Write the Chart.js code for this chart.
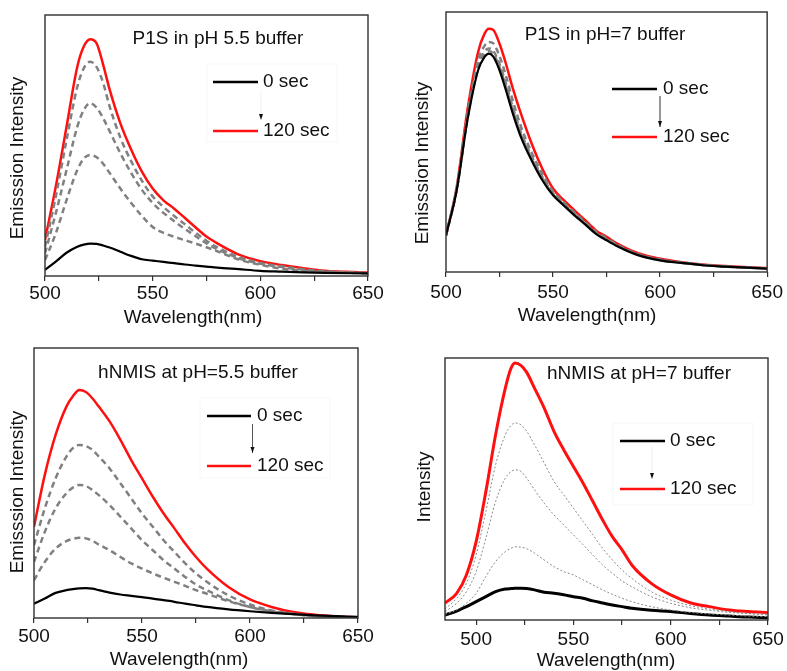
<!DOCTYPE html>
<html>
<head>
<meta charset="utf-8">
<script src="https://cdn.jsdelivr.net/npm/chart.js@4/dist/chart.umd.min.js"></script>
<style>
  html, body { margin: 0; padding: 0; background: #fff; }
  body { width: 787px; height: 671px; position: relative; overflow: hidden; }
  canvas { position: absolute; }
</style>
</head>
<body>
<canvas id="c1" width="393" height="335" style="left:0;top:0"></canvas>
<canvas id="c2" width="387" height="335" style="left:400px;top:0"></canvas>
<canvas id="c3" width="393" height="336" style="left:0;top:335px"></canvas>
<canvas id="c4" width="387" height="336" style="left:400px;top:335px"></canvas>
<script>
// Axis ticks (every 25 nm, labels every 50 nm)
const tickValues = [500, 525, 550, 575, 600, 625, 650];
const labelValues = [500, 550, 600, 650];

// --- P1S in pH 5.5 buffer ---
const wlP1S55 = [500,505,510,515,518,521,524,527,530,535,540,545,550,555,560,565,570,575,580,590,600,610,620,630,650];
const p1s55_0s   = [2.3,5.5,8.9,11.2,12.0,12.4,12.3,11.7,10.9,9.3,7.7,6.4,5.9,5.4,4.9,4.4,4.0,3.6,3.2,2.6,2.0,1.7,1.4,1.2,1.0];
const p1s55_t1   = [6.1,16.3,29.1,40.6,45.0,46.4,45.5,43.0,39.5,33.5,28.0,23.0,18.8,16.5,15.0,13.7,12.4,11.0,9.5,6.3,4.3,2.8,2.0,1.5,1.0];
const p1s55_t2   = [8.7,24.0,40.6,57.2,63.6,66.2,64.5,60.5,55.5,47.0,39.5,33.0,28.0,24.2,21.0,18.0,15.2,12.5,10.2,6.8,4.7,3.4,2.4,1.7,1.1];
const p1s55_t3   = [11.2,30.4,52.1,72.5,79.6,82.1,80.0,74.0,65.0,53.0,44.0,36.5,30.5,26.5,23.0,19.8,16.5,13.5,11.0,7.3,5.0,3.7,2.6,1.8,1.1];
const p1s55_120s = [13.8,34.2,57.2,80.2,87.9,90.7,89.1,81.0,71.5,58.5,48.5,40.0,33.5,29.0,25.8,22.2,18.6,15.1,12.5,8.2,5.7,4.2,3.0,2.0,1.3];

// --- P1S in pH=7 buffer ---
const wlP1S7 = [500,505,510,515,518,520,522,525,528,531,535,540,545,550,555,560,565,570,575,580,590,600,610,620,630,650];
const p1s7_0s   = [14.1,31.4,58.3,77.6,82.7,84.0,82.9,77.6,69.9,61.5,51.9,42.9,35.3,29.5,25.6,21.8,18.3,14.7,12.2,9.9,6.4,4.5,3.5,2.6,2.1,1.3];
const p1s7_t1   = [14.1,31.6,58.8,78.5,83.6,85.0,84.0,78.8,71.2,62.6,52.8,43.6,36.0,29.9,25.9,22.1,18.5,14.9,12.4,10.0,6.5,4.5,3.5,2.6,2.1,1.3];
const p1s7_t2   = [14.1,31.8,59.5,79.5,84.8,86.0,85.2,80.0,72.5,63.8,53.8,44.5,36.6,30.3,26.2,22.4,18.8,15.1,12.6,10.2,6.6,4.6,3.6,2.7,2.1,1.4];
const p1s7_t3   = [14.1,32.2,60.5,81.5,87.0,88.5,88.0,83.0,75.5,66.5,56.0,46.0,37.8,31.0,26.8,22.9,19.2,15.5,13.0,10.5,6.8,4.8,3.7,2.8,2.2,1.4];
const p1s7_120s = [14.1,32.7,62.2,84.6,91.7,93.6,93.2,87.8,80.1,71.2,60.9,49.4,39.7,32.1,27.6,23.7,19.9,16.0,13.5,10.9,7.1,5.1,3.8,2.9,2.3,1.5];

// --- hNMIS at pH=5.5 buffer ---
const wlH55 = [500,505,510,515,518,521,524,527,530,535,540,545,550,555,560,565,570,575,580,590,600,610,620,630,640,650];
const h55_0s   = [5.3,7.2,9.3,10.3,10.7,11.0,11.1,10.9,10.3,9.4,8.7,8.2,7.7,7.2,6.6,6.0,5.3,4.7,4.1,3.2,2.5,1.9,1.4,1.0,0.7,0.4];
const h55_t1   = [14.0,20.8,25.7,28.5,29.3,29.7,29.5,28.6,27.2,25.1,22.6,20.2,18.3,16.5,14.9,13.4,11.9,10.3,9.0,6.2,4.1,2.5,1.5,0.7,0.4,0.25];
const h55_t2   = [20.8,31.9,40.6,46.2,48.3,49.3,48.9,47.4,45.5,41.8,37.5,33.2,28.8,25.1,21.4,18.3,15.2,12.4,10.3,6.6,4.1,2.5,1.5,0.7,0.4,0.25];
const h55_t3   = [27.0,40.6,51.7,59.8,62.9,64.1,63.7,62.3,59.8,55.4,49.9,44.3,38.7,33.8,28.8,24.5,20.2,16.5,13.4,8.4,5.0,2.8,1.5,0.7,0.4,0.25];
const h55_120s = [33.8,53.0,67.8,78.3,82.1,84.4,83.7,81.4,78.3,72.8,66.0,58.5,51.7,44.9,38.7,33.2,27.6,22.6,18.3,11.5,6.9,4.1,2.2,1.2,0.6,0.25];

// --- hNMIS at pH=7 buffer ---
const wlH7 = [484,490,495,500,505,510,515,518,520,523,526,530,535,540,545,550,555,560,565,570,575,580,590,600,610,620,630,640,650];
const h7_0s   = [1.9,3.4,5.1,7.0,8.9,10.8,11.8,12.0,12.1,12.1,12.0,11.5,10.6,10.2,9.6,8.9,8.3,7.3,6.5,5.7,5.1,4.5,3.7,3.2,2.5,1.9,1.5,1.1,0.9];
const h7_t1   = [2.2,3.8,6.4,10.2,16.6,22.3,26.1,27.4,27.9,27.8,27.2,25.5,22.9,20.4,18.5,17.2,15.3,13.4,11.5,9.8,8.3,7.0,5.1,3.8,2.9,2.3,1.9,1.5,1.3];
const h7_t2   = [3.2,6.4,10.8,18.5,31.2,45.2,54.1,56.7,57.3,56.7,54.1,49.7,44.6,40.1,36.3,32.5,28.7,24.8,21.0,17.8,14.9,12.7,8.9,6.4,4.7,3.7,2.9,2.4,1.9];
const h7_t3   = [4.2,8.3,14.0,24.8,41.4,59.2,70.7,74.3,75.2,74.5,72.0,66.9,59.9,52.9,47.8,42.7,37.6,32.5,27.4,22.9,19.1,15.9,10.8,7.6,5.5,4.2,3.2,2.5,2.2];
const h7_120s = [6.4,10.2,17.2,29.9,49.0,70.7,88.5,96.2,98.1,97.2,94.5,88.5,80.9,72.0,65.0,58.6,52.2,45.2,38.2,31.8,26.8,21.0,14.0,9.6,6.6,5.1,3.8,3.2,2.8];

const legendLabels = ['0 sec', '120 sec'];
const FONT = '"Liberation Sans", Arial, Helvetica, sans-serif';
Chart.defaults.font.family = FONT;
Chart.defaults.color = '#111';

const styles = {
  red:   { borderColor: '#ff1010', borderWidth: 2.5, borderDash: [] },
  black: { borderColor: '#000000', borderWidth: 2.2, borderDash: [] },
  dash:  { borderColor: '#808080', borderWidth: 2.5, borderDash: [6, 4] },
  dot:   { borderColor: '#8a8a8a', borderWidth: 1, borderDash: [2, 2] }
};

function series(wl, vals, kind, extra) {
  return Object.assign({
    data: wl.map((x, i) => ({ x: x, y: vals[i] })),
    pointRadius: 0,
    fill: false,
    cubicInterpolationMode: 'monotone',
    tension: 0.4
  }, styles[kind], extra || {});
}

// Frame, panel title, hand-placed legend with arrow, and axis titles
const panelDecor = {
  id: 'panelDecor',
  afterDatasetsDraw(chart, args, o) {
    const ctx = chart.ctx, a = chart.chartArea;
    ctx.save();
    // faint legend box
    if (o.box) {
      ctx.strokeStyle = 'rgba(0,0,0,0.035)';
      ctx.lineWidth = 1;
      ctx.strokeRect(o.box[0], o.box[1], o.box[2], o.box[3]);
    }
    // frame
    ctx.strokeStyle = '#303030';
    ctx.lineWidth = 1.4;
    ctx.strokeRect(a.left, a.top, a.right - a.left, a.bottom - a.top);

    ctx.fillStyle = '#111';
    ctx.font = '19px ' + FONT;
    ctx.textBaseline = 'middle';
    ctx.textAlign = 'center';
    ctx.fillText(o.title, o.titleX, o.titleY);

    // legend lines
    const lg = o.legend;
    ctx.lineWidth = lg.lw;
    ctx.strokeStyle = '#000';
    ctx.beginPath(); ctx.moveTo(lg.x0, lg.y0); ctx.lineTo(lg.x1, lg.y0); ctx.stroke();
    ctx.strokeStyle = '#ff1010';
    ctx.beginPath(); ctx.moveTo(lg.x0, lg.y1); ctx.lineTo(lg.x1, lg.y1); ctx.stroke();
    ctx.textAlign = 'left';
    ctx.fillText(legendLabels[0], lg.tx, lg.y0);
    ctx.fillText(legendLabels[1], lg.tx, lg.y1);

    // arrow between the two entries
    const ar = o.arrow;
    ctx.strokeStyle = ar.color;
    ctx.lineWidth = 1;
    ctx.beginPath(); ctx.moveTo(ar.x, ar.y0); ctx.lineTo(ar.x, ar.y1); ctx.stroke();
    ctx.fillStyle = '#111';
    ctx.beginPath();
    ctx.moveTo(ar.x - 2, ar.y1 - 6); ctx.lineTo(ar.x + 2, ar.y1 - 6); ctx.lineTo(ar.x, ar.y1);
    ctx.closePath(); ctx.fill();

    // axis titles
    ctx.fillStyle = '#111';
    ctx.textAlign = 'center';
    ctx.fillText(o.xTitle, o.xTitleX, o.xTitleY);
    ctx.translate(o.yTitleX, o.yTitleY);
    ctx.rotate(-Math.PI / 2);
    ctx.fillText(o.yTitle, 0, 0);
    ctx.restore();
  }
};

function makePanel(id, cfg) {
  new Chart(document.getElementById(id), {
    type: 'line',
    data: { datasets: cfg.datasets },
    plugins: [panelDecor],
    options: {
      responsive: false,
      animation: false,
      events: [],
      layout: { padding: { left: 0, top: cfg.padTop, right: cfg.padRight, bottom: 0 } },
      plugins: {
        legend: { display: false },
        tooltip: { enabled: false },
        panelDecor: cfg.decor
      },
      scales: {
        x: {
          type: 'linear',
          min: cfg.xMin, max: 650,
          afterBuildTicks: s => { s.ticks = tickValues.map(v => ({ value: v })); },
          afterFit: s => { s.height = cfg.xH; },
          grid: { display: true, drawOnChartArea: false, drawTicks: true, tickLength: 5, color: '#303030', lineWidth: 1.2 },
          border: { display: false },
          ticks: {
            autoSkip: false, maxRotation: 0, padding: cfg.tickPad,
            font: { size: 19, lineHeight: 1.2 }, color: '#111',
            callback: v => labelValues.includes(v) ? String(v) : ''
          }
        },
        y: {
          min: 0, max: 100,
          afterFit: s => { s.width = cfg.yW; },
          grid: { display: false },
          border: { display: false },
          ticks: { display: false }
        }
      }
    }
  });
}

makePanel('c1', {
  xMin: 500, yW: 45, padTop: 15, padRight: 25, xH: 59, tickPad: 1,
  datasets: [
    series(wlP1S55, p1s55_0s, 'black'),
    series(wlP1S55, p1s55_t1, 'dash'),
    series(wlP1S55, p1s55_t2, 'dash'),
    series(wlP1S55, p1s55_t3, 'dash'),
    series(wlP1S55, p1s55_120s, 'red')
  ],
  decor: {
    title: 'P1S in pH 5.5 buffer', titleX: 218, titleY: 39,
    legend: { x0: 213, x1: 258, y0: 82, y1: 131, tx: 263, lw: 2.5 },
    arrow: { x: 261, y0: 90, y1: 120, color: 'rgba(0,0,0,0.06)' },
    box: [207, 64, 130, 78],
    xTitle: 'Wavelength(nm)', xTitleX: 193, xTitleY: 318,
    yTitle: 'Emisssion Intensity', yTitleX: 18, yTitleY: 158
  }
});

makePanel('c2', {
  xMin: 500, yW: 46, padTop: 12, padRight: 19, xH: 63, tickPad: 4,
  datasets: [
    series(wlP1S7, p1s7_0s, 'black'),
    series(wlP1S7, p1s7_t1, 'dash'),
    series(wlP1S7, p1s7_t2, 'dash'),
    series(wlP1S7, p1s7_t3, 'dash'),
    series(wlP1S7, p1s7_120s, 'red')
  ],
  decor: {
    title: 'P1S in pH=7 buffer', titleX: 205, titleY: 35,
    legend: { x0: 212, x1: 257, y0: 89, y1: 137, tx: 263, lw: 2.5 },
    arrow: { x: 260, y0: 96, y1: 127, color: '#333' },
    box: null,
    xTitle: 'Wavelength(nm)', xTitleX: 187, xTitleY: 316,
    yTitle: 'Emisssion Intensity', yTitleX: 23, yTitleY: 163
  }
});

makePanel('c3', {
  xMin: 500, yW: 34, padTop: 13, padRight: 35, xH: 53, tickPad: 2,
  datasets: [
    series(wlH55, h55_0s, 'black'),
    series(wlH55, h55_t1, 'dash'),
    series(wlH55, h55_t2, 'dash'),
    series(wlH55, h55_t3, 'dash'),
    series(wlH55, h55_120s, 'red')
  ],
  decor: {
    title: 'hNMIS at pH=5.5 buffer', titleX: 198, titleY: 38,
    legend: { x0: 207, x1: 251, y0: 81, y1: 131, tx: 257, lw: 2.5 },
    arrow: { x: 252.5, y0: 89, y1: 118, color: '#555' },
    box: [200, 63, 130, 80],
    xTitle: 'Wavelength(nm)', xTitleX: 179, xTitleY: 325,
    yTitle: 'Emisssion Intensity', yTitleX: 18, yTitleY: 157
  }
});

makePanel('c4', {
  xMin: 484, yW: 45, padTop: 23, padRight: 19, xH: 51, tickPad: 3,
  datasets: [
    series(wlH7, h7_t1, 'dot'),
    series(wlH7, h7_t2, 'dot'),
    series(wlH7, h7_t3, 'dot'),
    series(wlH7, h7_0s, 'black', { borderWidth: 3 }),
    series(wlH7, h7_120s, 'red', { borderWidth: 3 })
  ],
  decor: {
    title: 'hNMIS at pH=7 buffer', titleX: 239, titleY: 39,
    legend: { x0: 220, x1: 265, y0: 106, y1: 154, tx: 270, lw: 2.5 },
    arrow: { x: 252, y0: 112, y1: 144, color: 'rgba(0,0,0,0.08)' },
    box: [213, 88, 140, 82],
    xTitle: 'Wavelength(nm)', xTitleX: 206, xTitleY: 326,
    yTitle: 'Intensity', yTitleX: 25, yTitleY: 152
  }
});
</script>
</body>
</html>
